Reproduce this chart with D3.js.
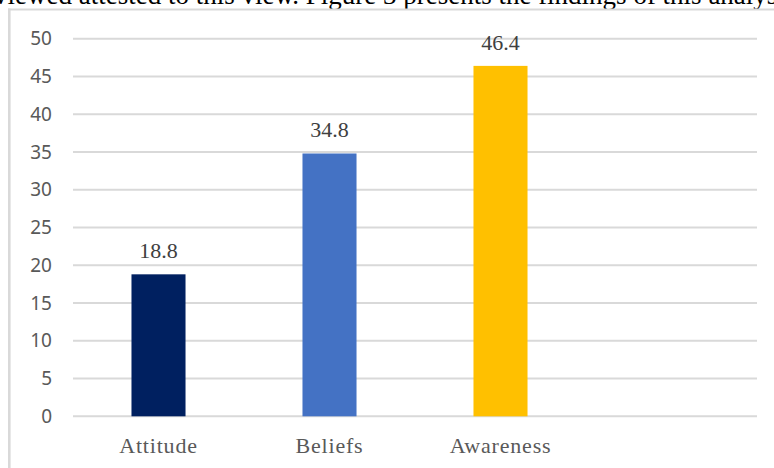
<!DOCTYPE html>
<html>
<head>
<meta charset="utf-8">
<script src="https://cdn.jsdelivr.net/npm/d3@7"></script>
<style>
  html, body { margin: 0; padding: 0; background: #fff; }
  svg { display: block; }
</style>
</head>
<body>
<svg id="chart" width="774" height="468"></svg>
<script>
// Share of responses by theme (%)
const categories = ["Attitude", "Beliefs", "Awareness"];
const values = [18.8, 34.8, 46.4];
const barColors = ["#002060", "#4472C4", "#FFC000"];
const yTicks = [0, 5, 10, 15, 20, 25, 30, 35, 40, 45, 50];
const captionText = "viewed attested to this view. Figure 3 presents the findings of this analysis";

const W = 774, H = 468;
const plot = { left: 73, right: 757, top: 38.7, bottom: 416.3 };

const svg = d3.select("#chart");
svg.append("rect").attr("width", W).attr("height", H).attr("fill", "#fff");

// running text of the page above the figure
svg.append("text")
  .attr("x", -6).attr("y", 4)
  .attr("font-family", "'Liberation Serif', 'Times New Roman', serif")
  .attr("font-size", 27)
  .attr("fill", "#000")
  .text(captionText);

// figure frame
svg.append("line").attr("x1", 8).attr("x2", W).attr("y1", 9.5).attr("y2", 9.5)
  .attr("stroke", "#d9d9d9").attr("stroke-width", 2.2);
svg.append("line").attr("x1", 9.3).attr("x2", 9.3).attr("y1", 8.4).attr("y2", H)
  .attr("stroke", "#d9d9d9").attr("stroke-width", 2.6);

// an empty slot keeps the fourth band free on the right
const x = d3.scaleBand()
  .domain([...categories, " "])
  .range([plot.left, plot.right])
  .paddingInner(0.684)
  .paddingOuter(0.342);

const y = d3.scaleLinear().domain([0, 50]).range([plot.bottom, plot.top]);

// gridlines
svg.append("g").selectAll("line").data(yTicks).join("line")
  .attr("x1", plot.left).attr("x2", plot.right)
  .attr("y1", d => y(d)).attr("y2", d => y(d))
  .attr("stroke", "#d9d9d9").attr("stroke-width", 2);

// y axis labels
const yAxis = svg.append("g")
  .attr("transform", `translate(${plot.left},0)`)
  .call(d3.axisLeft(y).tickValues(yTicks).tickSize(0).tickPadding(21));
yAxis.select(".domain").remove();
yAxis.selectAll("text")
  .attr("font-family", "'Noto Sans', 'Open Sans', sans-serif")
  .attr("font-size", 19)
  .attr("fill", "#595959");

// x axis labels
const xAxis = svg.append("g")
  .attr("transform", `translate(0,${plot.bottom})`)
  .call(d3.axisBottom(x).tickSize(0).tickPadding(21));
xAxis.select(".domain").remove();
xAxis.selectAll("text")
  .attr("font-family", "'Liberation Serif', 'Times New Roman', serif")
  .attr("font-size", 22)
  .attr("letter-spacing", "0.8px")
  .attr("fill", "#595959");

// bars
svg.append("g").selectAll("rect").data(values).join("rect")
  .attr("x", (d, i) => x(categories[i]))
  .attr("width", x.bandwidth())
  .attr("y", d => y(d))
  .attr("height", d => y(0) - y(d))
  .attr("fill", (d, i) => barColors[i]);

// value labels
svg.append("g").selectAll("text").data(values).join("text")
  .attr("x", (d, i) => x(categories[i]) + x.bandwidth() / 2)
  .attr("y", d => y(d) - 16)
  .attr("text-anchor", "middle")
  .attr("font-family", "'Liberation Serif', 'Times New Roman', serif")
  .attr("font-size", 22)
  .attr("fill", "#404040")
  .text(d => d.toFixed(1));
</script>
</body>
</html>
